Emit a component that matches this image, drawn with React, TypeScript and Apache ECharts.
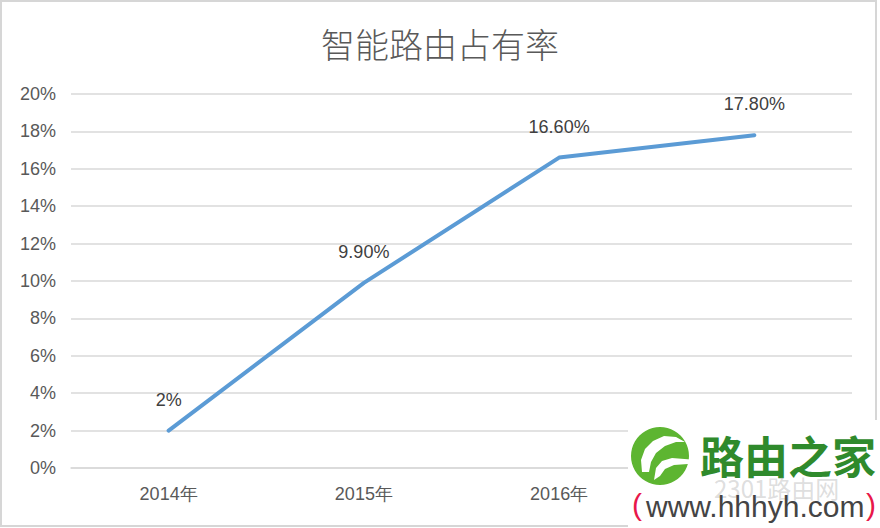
import React, { useEffect, useRef } from "react";
import * as echarts from "echarts";

const titleText = "智能路由占有率";
const categories = ["2014年", "2015年", "2016年", "2017年"];
const shareValues = [2.0, 9.9, 16.6, 17.8];
const shareLabels = ["2%", "9.90%", "16.60%", "17.80%"];
const yTicks = { min: 0, max: 20, interval: 2 };

export default function App() {
  const ref = useRef<HTMLDivElement>(null);
  useEffect(() => {
    if (!ref.current) return;
    const chart = echarts.init(ref.current, null, { renderer: "svg" });
    const font = "'Liberation Sans', Arial, sans-serif";
    const cjk = "'Noto Sans CJK SC', sans-serif";
    chart.setOption({
      animation: false,
      backgroundColor: "#ffffff",
      title: {
        text: titleText,
        left: "center",
        top: 21,
        textStyle: {
          fontFamily: cjk,
          fontSize: 34,
          fontWeight: 300,
          color: "#595959",
        },
      },
      grid: { left: 71, right: 28, top: 94, bottom: 60 },
      xAxis: {
        type: "category",
        data: categories,
        boundaryGap: true,
        axisLine: { show: true, lineStyle: { color: "#d9d9d9", width: 1.5 } },
        axisTick: { show: false },
        axisLabel: {
          color: "#595959",
          fontSize: 18,
          fontFamily: font,
          margin: 17,
          // the last label is covered by the watermark in the reference
          interval: (i: number) => i < 3,
        },
      },
      yAxis: {
        type: "value",
        min: yTicks.min,
        max: yTicks.max,
        interval: yTicks.interval,
        axisLine: { show: false },
        axisTick: { show: false },
        splitLine: { lineStyle: { color: "#d9d9d9", width: 1.5 } },
        axisLabel: {
          formatter: "{value}%",
          color: "#595959",
          fontSize: 18,
          fontFamily: font,
          margin: 15,
        },
      },
      series: [
        {
          type: "line",
          data: shareValues,
          showSymbol: true,
          symbol: "circle",
          symbolSize: 0.1,
          lineStyle: { color: "#5b9bd5", width: 4, cap: "round" },
          itemStyle: { color: "#5b9bd5" },
          label: {
            show: true,
            position: "top",
            distance: 22,
            color: "#404040",
            fontSize: 18,
            fontFamily: font,
            formatter: (p: any) => shareLabels[p.dataIndex],
          },
        },
      ],
      graphic: [
        {
          type: "rect",
          shape: { x: 1, y: 1, width: 875, height: 525 },
          style: { fill: "none", stroke: "#d6d6d6", lineWidth: 2 },
          z: 90,
          silent: true,
        },
        {
          type: "rect",
          shape: { x: 628, y: 420, width: 252, height: 108 },
          style: { fill: "#ffffff" },
          z: 100,
          silent: true,
        },
        {
          type: "circle",
          shape: { cx: 660, cy: 456, r: 29 },
          style: { fill: "#5db531" },
          z: 101,
        },
        {
          type: "polygon",
          shape: {
            points: [
              [642, 472], [641, 460], [645, 449], [653, 441], [664, 436],
              [676, 437], [685, 442], [676, 442], [665, 446], [656, 453],
              [651, 462], [649, 472],
            ],
          },
          style: { fill: "#ffffff" },
          z: 102,
        },
        {
          type: "polygon",
          shape: {
            points: [
              [654, 480], [656, 468], [662, 461], [672, 458], [697, 460],
              [688, 464], [674, 465], [665, 469], [660, 476],
            ],
          },
          style: { fill: "#ffffff" },
          z: 102,
        },
        {
          type: "text",
          x: 700,
          y: 455,
          style: {
            text: "路由之家",
            fill: "#2f8a2c",
            fontSize: 44,
            fontWeight: "bold",
            fontFamily: cjk,
            verticalAlign: "middle",
          },
          z: 103,
        },
        {
          type: "text",
          x: 714,
          y: 487,
          style: {
            text: "2301路由网",
            fill: "rgba(170,170,170,0.4)",
            fontSize: 24,
            fontFamily: cjk,
            verticalAlign: "middle",
          },
          z: 103,
        },
        {
          type: "text",
          x: 646,
          y: 506,
          style: {
            text: "www.hhhyh.com",
            fill: "#444444",
            fontSize: 30,
            fontFamily: font,
            verticalAlign: "middle",
          },
          z: 104,
        },
        {
          type: "text",
          x: 632,
          y: 504,
          style: {
            text: "(",
            fill: "#e8174a",
            fontSize: 30,
            fontFamily: font,
            verticalAlign: "middle",
          },
          z: 104,
        },
        {
          type: "text",
          x: 866,
          y: 504,
          style: {
            text: ")",
            fill: "#e8174a",
            fontSize: 30,
            fontFamily: font,
            verticalAlign: "middle",
          },
          z: 104,
        },
      ],
    });
    return () => chart.dispose();
  }, []);
  return (
    <div
      ref={ref}
      style={{ position: "fixed", left: 0, top: 0, width: 880, height: 528 }}
    />
  );
}
